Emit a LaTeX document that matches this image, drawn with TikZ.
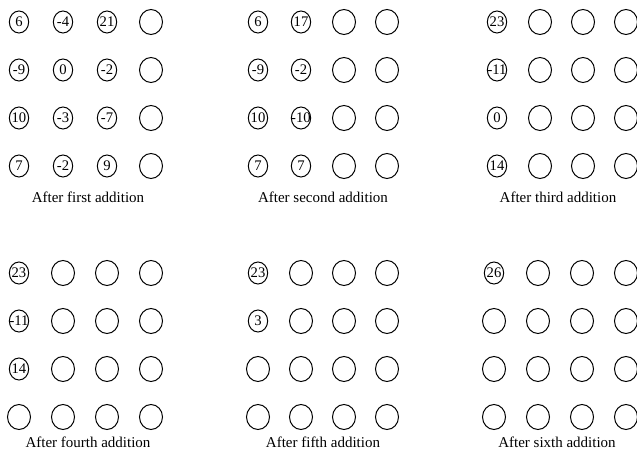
\documentclass[tikz,border=0pt]{standalone}
\usepackage{fontspec}
\setmainfont{Liberation Serif}
\usetikzlibrary{shapes.geometric}

\newcommand{\cellnum}[1]{\makebox[0pt]{#1}}

\begin{document}
\begin{tikzpicture}[
    x=0.03cm, y=-0.03cm,
    cell/.style={draw, ellipse, line width=0.85pt, inner sep=0pt,
      minimum width=0.69cm, minimum height=0.75cm},
    numcell/.style={cell, minimum width=0.58cm, minimum height=0.66cm,
      font=\fontsize{12.5}{13}\selectfont},
    caption/.style={font=\fontsize{12.8}{14}\selectfont},
  ]
  \useasboundingbox (0,0) rectangle (637,460);

  % After first addition
  \begin{scope}[shift={(19,22)}]
    \foreach \col/\row/\v in {0/0/6, 0/1/-9, 0/2/10, 0/3/7,
                              1/0/-4, 1/1/0, 1/2/-3, 1/3/-2,
                              2/0/21, 2/1/-2, 2/2/-7, 2/3/9}
      \node[numcell] (first-\col-\row) at (44*\col, 48*\row) {\cellnum{\v}};
    \foreach \row in {0,...,3}
      \node[cell] (first-3-\row) at (132, 48*\row) {};
  \end{scope}
  \node[caption] (first-label) at (88,197) {After first addition};

  % After second addition
  \begin{scope}[shift={(258,22)}]
    \foreach \col/\row/\v in {0/0/6, 0/1/-9, 0/2/10, 0/3/7,
                              1/0/17, 1/1/-2, 1/2/-10, 1/3/7}
      \node[numcell] (second-\col-\row) at (43*\col, 48*\row) {\cellnum{\v}};
    \foreach \col in {2,3}
      \foreach \row in {0,...,3}
        \node[cell] (second-\col-\row) at (43*\col, 48*\row) {};
  \end{scope}
  \node[caption] (second-label) at (323,197) {After second addition};

  % After third addition
  \begin{scope}[shift={(497,22)}]
    \foreach \row/\v in {0/23, 1/-11, 2/0, 3/14}
      \node[numcell] (third-0-\row) at (0, 48*\row) {\cellnum{\v}};
    \foreach \col in {1,2,3}
      \foreach \row in {0,...,3}
        \node[cell] (third-\col-\row) at (43*\col, 48*\row) {};
  \end{scope}
  \node[caption] (third-label) at (558,197) {After third addition};

  % After fourth addition
  \begin{scope}[shift={(19,273)}]
    \foreach \row/\v in {0/23, 1/-11, 2/14}
      \node[numcell] (fourth-0-\row) at (0, 48*\row) {\cellnum{\v}};
    \node[cell] (fourth-0-3) at (0,144) {};
    \foreach \col in {1,2,3}
      \foreach \row in {0,...,3}
        \node[cell] (fourth-\col-\row) at (44*\col, 48*\row) {};
  \end{scope}
  \node[caption] (fourth-label) at (88,442) {After fourth addition};

  % After fifth addition
  \begin{scope}[shift={(258,273)}]
    \foreach \row/\v in {0/23, 1/3}
      \node[numcell] (fifth-0-\row) at (0, 48*\row) {\cellnum{\v}};
    \foreach \row in {2,3}
      \node[cell] (fifth-0-\row) at (0, 48*\row) {};
    \foreach \col in {1,2,3}
      \foreach \row in {0,...,3}
        \node[cell] (fifth-\col-\row) at (43*\col, 48*\row) {};
  \end{scope}
  \node[caption] (fifth-label) at (323,442) {After fifth addition};

  % After sixth addition
  \begin{scope}[shift={(494,273)}]
    \node[numcell] (sixth-0-0) at (0,0) {\cellnum{26}};
    \foreach \row in {1,2,3}
      \node[cell] (sixth-0-\row) at (0, 48*\row) {};
    \foreach \col in {1,2,3}
      \foreach \row in {0,...,3}
        \node[cell] (sixth-\col-\row) at (44*\col, 48*\row) {};
  \end{scope}
  \node[caption] (sixth-label) at (557,442) {After sixth addition};
\end{tikzpicture}
\end{document}
